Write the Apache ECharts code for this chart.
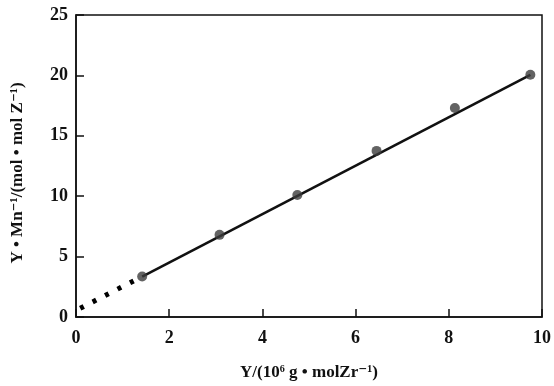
<!DOCTYPE html>
<html>
<head>
<meta charset="utf-8">
<script src="https://cdn.jsdelivr.net/npm/echarts@6/dist/echarts.min.js"></script>
<style>
  html, body { margin: 0; padding: 0; background: #fff; }
  #chart { width: 554px; height: 386px; }
</style>
</head>
<body>
<div id="chart"></div>
<script>
// measured points
const yieldX = [1.42, 3.08, 4.75, 6.45, 8.13, 9.75]
const ratioY = [3.35, 6.8, 10.1, 13.75, 17.3, 20.05]

// fitted line: solid over data range, dotted extrapolation to origin
const fitX = [1.42, 9.75]
const fitY = [3.35, 20.05]
const extrapX = [0.09, 1.42]
const extrapY = [0.72, 3.35]

const xTicks = [0, 10, 2]  // min, max, step
const yTicks = [0, 25, 5]

const font = "'Liberation Serif', 'DejaVu Serif', serif"
const pair = (xs, ys) => xs.map((x, i) => [x, ys[i]])

const chart = echarts.init(document.getElementById("chart"))

chart.setOption({
  animation: false,
  grid: {
    left: 76, right: 11, top: 15, bottom: 64,
    show: true, borderColor: "#111", borderWidth: 1.5,
  },
  xAxis: {
    type: "value",
    min: xTicks[0], max: xTicks[1], interval: xTicks[2],
    name: "Y/(10\u2076 g \u2022 molZr\u207B\u00B9)",
    nameLocation: "middle",
    nameGap: 47,
    nameTextStyle: { fontFamily: font, fontWeight: "bold", fontSize: 17, color: "#111" },
    axisLine: { lineStyle: { color: "#111", width: 1.5 } },
    axisTick: { inside: true, length: 8, lineStyle: { color: "#111", width: 1.5 } },
    axisLabel: { fontFamily: font, fontWeight: "bold", fontSize: 18, color: "#111", margin: 12 },
    splitLine: { show: false },
  },
  yAxis: {
    type: "value",
    min: yTicks[0], max: yTicks[1], interval: yTicks[2],
    name: "Y \u2022 Mn\u207B\u00B9/(mol \u2022 mol Z\u207B\u00B9)",
    nameLocation: "middle",
    nameGap: 50,
    nameTextStyle: {
      fontFamily: font, fontWeight: "bold", fontSize: 17, color: "#111",
      padding: [0, 14, 0, 0],
    },
    axisLine: { lineStyle: { color: "#111", width: 1.5 } },
    axisTick: { inside: true, length: 8, lineStyle: { color: "#111", width: 1.5 } },
    axisLabel: { fontFamily: font, fontWeight: "bold", fontSize: 18, color: "#111", margin: 8 },
    splitLine: { show: false },
  },
  series: [
    {
      type: "line",
      data: pair(extrapX, extrapY),
      showSymbol: false,
      lineStyle: { color: "#000", width: 5, type: [4, 10] },
      z: 2,
    },
    {
      type: "line",
      data: pair(fitX, fitY),
      showSymbol: false,
      lineStyle: { color: "#111", width: 2.6 },
      z: 3,
    },
    {
      type: "scatter",
      data: pair(yieldX, ratioY),
      symbol: "circle",
      symbolSize: 10,
      itemStyle: { color: "#3c3c3c" },
      z: 4,
    },
  ],
})
</script>
</body>
</html>
